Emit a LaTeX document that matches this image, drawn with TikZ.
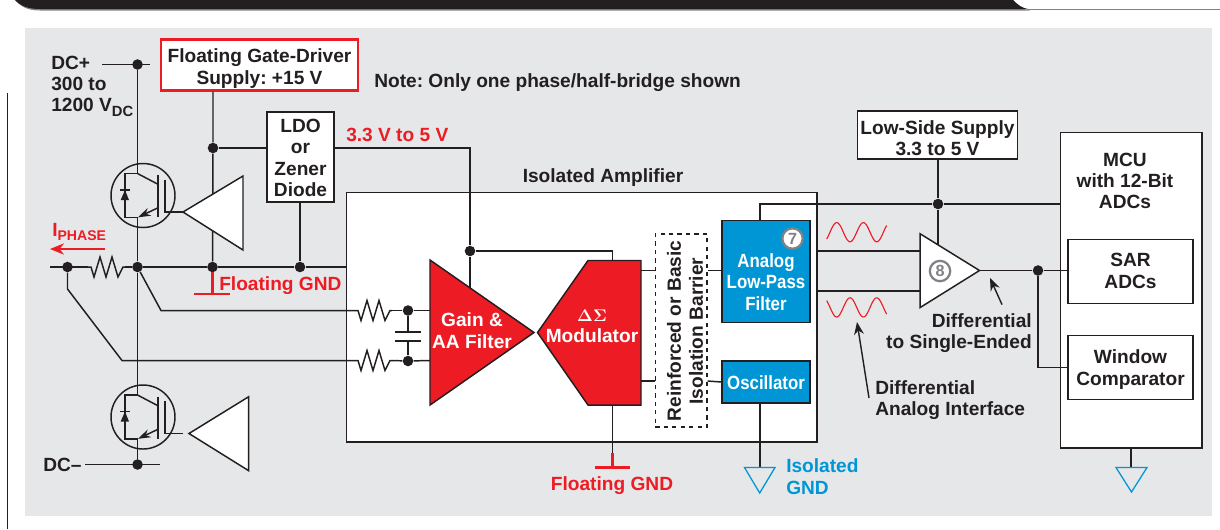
\documentclass[tikz,border=0pt]{standalone}
\usepackage{fontspec}
\setmainfont{Liberation Sans}
\usetikzlibrary{positioning, calc}
\usetikzlibrary{arrows.meta}

\definecolor{ink}{HTML}{231F20}
\definecolor{tired}{HTML}{ED1C24}
\definecolor{tiblue}{HTML}{0096D6}
\definecolor{panelgray}{HTML}{E6E7E8}
\definecolor{ringgray}{HTML}{808285}

\tikzset{
  wire/.style={draw=ink,line width=1.05pt},
  label/.style={font=\fontsize{13.6}{15.2}\selectfont\bfseries\frenchspacing,text=ink,inner sep=0pt,align=center},
  redlabel/.style={label,text=tired},
  bluelabel/.style={label,text=tiblue,align=left},
  whitelabel/.style={label,text=white},
  narrowlabel/.style={whitelabel,xscale=0.88},
  plainbox/.style={draw=ink,line width=1.05pt,fill=white,inner sep=0pt},
  bluebox/.style={draw=ink,line width=1.05pt,fill=tiblue,inner sep=0pt},
  dot/.style={circle,fill=ink,inner sep=0pt,minimum size=7.5pt},
  badge/.style={circle,draw=ringgray,line width=1.6pt,fill=white,inner sep=0pt,minimum size=14.5pt,
    font=\fontsize{11.5}{12}\selectfont\bfseries,text=ringgray},
  note/.style={draw=ink,line width=1pt,-{Stealth[length=9pt,width=7pt]}},
  redbar/.style={draw=tired,line width=1.8pt},
  bluegnd/.style={draw=tiblue,line width=0.9pt},
  % resistor, drawn from its left end
  resistor/.pic={
    \draw[wire] (0,0) -- (3,-0) -- (6,10) -- (12,-10) -- (18,10) -- (24,-10) -- (30,10) -- (35,0) -- (37,0);
  },
  % transistor, drawn from its collector point
  igbt/.pic={
    \draw[wire] (5.5,22) circle (32);
    \draw[wire] (0,0) -- (-12.5,0) -- (-12.5,44) -- (0,44);
    \draw[wire] (0,0) -- (20,10.5);
    \draw[wire] (20.5,1.5) -- (20.5,43.5);
    \draw[wire] (27.5,6) -- (27.5,38.5) -- (45.5,38.5);
    \draw[wire,-{Stealth[length=9pt,width=6pt]}] (20,34.5) -- (0.5,43.8);
    \draw[wire] (-17.5,16.5) -- (-7.5,16.5);
    \fill[ink] (-12.5,16.5) -- (-8.5,26.5) -- (-16.8,26.5) -- cycle;
  }
}

\begin{document}
\begin{tikzpicture}[x=0.025cm,y=-0.025cm]
  \useasboundingbox (0,0) rectangle (1220,529);

  % header strip and panel
  \fill[ringgray] (15,0) .. controls (21,7) and (28,10.5) .. (40,10.5) -- (1030,10.5)
    .. controls (1022,9) and (1018,6) .. (1013,0) -- cycle;
  \fill[ink] (15,0) .. controls (21,6) and (28,9) .. (40,9) -- (1028,9)
    .. controls (1022,8) and (1018,5) .. (1013,0) -- cycle;
  \draw[ringgray,line width=0.9pt] (1027,9.3) -- (1220,9.3);
  \fill[panelgray] (25,28) rectangle (1212,516);
  \draw[ink,line width=1pt] (7.5,93) -- (7.5,529);

  % isolated amplifier outline
  \node[plainbox,minimum width=11.77cm,minimum height=6.225cm,anchor=north west] (amp) at (345.5,192) {};
  \node[label] (amptitle) at (603,177.5) {Isolated Amplifier};

  % supply boxes
  \node[plainbox,draw=tired,line width=1.9pt,minimum width=4.93cm,minimum height=1.26cm] (gatesupply) at (259.5,65) {};
  \node[label] (gatetext) at (259.5,68.5) {Floating Gate-Driver\\Supply: +15 V};
  \node[plainbox,minimum width=1.675cm,minimum height=2.25cm] (ldo) at (300.5,157) {};
  \node[label] (ldotext) at (300.5,158) {LDO\\or\\Zener\\Diode};
  \node[plainbox,minimum width=4cm,minimum height=1.2cm] (lowside) at (937.5,135) {};
  \node[label] (lowtext) at (937.5,138) {Low-Side Supply\\3.3 to 5 V};
  \node[label,anchor=west] (phasenote) at (374,82.5) {Note: Only one phase/half-bridge shown};

  % MCU
  \node[plainbox,minimum width=3.53cm,minimum height=7.875cm,anchor=north west] (mcu) at (1060,132) {};
  \node[label] (mcutitle) at (1125,181) {MCU\\with 12-Bit\\ADCs};
  \node[plainbox,minimum width=3.125cm,minimum height=1.6cm] (sar) at (1130.5,271.5) {};
  \node[label] (sartext) at (1130.5,271) {SAR\\ADCs};
  \node[plainbox,minimum width=3.125cm,minimum height=1.6cm] (window) at (1130.5,367.5) {};
  \node[label] (windowtext) at (1130.5,369.5) {Window\\Comparator};

  % blue blocks
  \node[bluebox,minimum width=2.2cm,minimum height=2.56cm] (lpf) at (766,271.5) {};
  \node[narrowlabel] (lpftext) at (766,282) {Analog\\Low-Pass\\Filter};
  \node[bluebox,minimum width=2.2cm,minimum height=1.05cm] (osc) at (766,382) {};
  \node[narrowlabel] (osctext) at (766,383) {Oscillator};
  \node[badge] (seven) at (792.5,238.5) {7};

  % barrier
  \node[draw=ink,line width=0.8pt,dashed,minimum width=1.29cm,minimum height=4.825cm] (barrier) at (681.2,330.5) {};
  \node[label,rotate=90] (barriera) at (674,331) {Reinforced or Basic};
  \node[label,rotate=90] (barrierb) at (696,331) {Isolation Barrier};

  % points
  \node[dot] (dcplus) at (137.5,64.5) {};
  \node[dot] (ldotap) at (213,148) {};
  \node[dot] (phase) at (67.5,267) {};
  \node[dot] (midpoint) at (137.5,267) {};
  \node[dot] (drvgnd) at (212.5,267) {};
  \node[dot] (ldognd) at (300,267) {};
  \node[dot] (dcminus) at (137.5,464.5) {};
  \node[dot] (ampsupply) at (470,251) {};
  \node[dot] (lowtap) at (938,204) {};
  \node[dot] (outtap) at (1038,270.5) {};
  \node[dot] (sensea) at (408,310.5) {};
  \node[dot] (senseb) at (408,361) {};

  \coordinate (dcplusl) at (102,64.5);
  \coordinate (dcplusr) at (150,64.5);
  \coordinate (dcminusl) at (85,464.5);
  \coordinate (dcminusr) at (160,464.5);
  \coordinate (collup) at (137.5,173.5);
  \coordinate (emitup) at (137.5,217.5);
  \coordinate (colllow) at (137.5,395);
  \coordinate (phasel) at (50,267);
  \coordinate (resl) at (88,267);
  \coordinate (resa) at (355,310.5);
  \coordinate (resb) at (355,360.5);

  % power wiring
  \draw[wire] (dcplusl) -- (dcplusr);
  \draw[wire] (dcminusl) -- (dcminusr);
  \draw[wire] (dcplus) -- (collup);
  \draw[wire] (emitup) -- (midpoint) -- (colllow);
  \draw[wire] (colllow |- 0,439) -- (dcminus);
  \draw[wire] (phasel) -- (resl);
  \draw[wire] (125,267) -- (midpoint) -- (drvgnd) -- (ldognd) -- (amp.west |- ldognd);
  \draw[wire] (gatesupply.south -| ldotap) -- (ldotap) -- (drvgnd);
  \draw[wire] (ldotap) -- (ldo.west |- ldotap);
  \draw[wire] (ldo.south -| ldognd) -- (ldognd);
  \draw[wire] (ldo.east |- ldotap) -- (470,148) -- (ampsupply) -- (470,290);
  \draw[wire] (ampsupply) -- (612.5,251) -- (612.5,262);

  % sense wiring
  \draw[wire] (midpoint) -- (161,310.5) -- (resa);
  \draw[wire] (phase) -- (67.5,289) -- (122,360.5) -- (resb);
  \draw[wire] (392,310.5) -- (sensea) -- (430,310.5);
  \draw[wire] (392,360.5) -- (senseb) -- (430,360.5);
  \draw[wire] (sensea) -- (408,332);
  \draw[wire] (senseb) -- (408,341);
  \draw[wire] (395,332) -- (421,332);
  \draw[wire] (395,341) -- (421,341);
  \pic at (resl) {resistor};
  \pic at (resa) {resistor};
  \pic at (resb) {resistor};

  % transistors and drivers
  \pic at (collup) {igbt};
  \pic at (colllow) {igbt};
  \draw[plainbox] (183,212) -- (243,176) -- (243,250) -- cycle;
  \draw[plainbox] (189,433.5) -- (248.7,396.7) -- (248.7,470.7) -- cycle;

  % gain stage and modulator
  \draw[wire,fill=tired] (430,260) -- (430,405) -- (534,332.5) -- cycle;
  \draw[wire,fill=tired] (537.5,332.5) -- (588,260.5) -- (641,260.5) -- (641,405) -- (588,405) -- cycle;
  \node[whitelabel] (gaintext) at (472,330.5) {Gain \&\\AA Filter};
  \node[whitelabel] (modtext) at (592,326) {{\fontsize{12}{12}\selectfont\boldmath$\Delta\Sigma$}\\Modulator};

  % across the barrier
  \draw[wire] (641,270.5) -- (barrier.west |- 0,270.5);
  \draw[wire] (barrier.east |- 0,270.5) -- (lpf.west |- 0,270.5);
  \draw[wire] (641,381) -- (barrier.west |- 0,381);
  \draw[wire] (barrier.east |- 0,381) -- (osc.west);

  % grounds
  \coordinate (gndleft) at (212.5,294);
  \coordinate (gndmod) at (612.5,467.5);
  \draw[wire] (drvgnd) -- (212.5,272);
  \draw[redbar] (212.5,272) -- (gndleft);
  \draw[redbar] (194,294) -- (230,294);
  \draw[wire] (612.5,405) -- (612.5,453);
  \draw[redbar] (612.5,453) -- (gndmod);
  \draw[redbar] (595,467.5) -- (630,467.5);
  \draw[wire] (osc.south -| 760,0) -- (760,467);
  \draw[bluegnd] (744.5,467.5) -- (775,467.5) -- (759.7,493) -- cycle;
  \draw[wire] (mcu.south -| 1131,0) -- (1131,467);
  \draw[bluegnd] (1116,467.5) -- (1147,467.5) -- (1131.5,492) -- cycle;

  % differential output stage
  \draw[wire] (lpf.north -| 760,0) -- (760,204) -- (lowtap) -- (mcu.west |- lowtap);
  \draw[wire] (lowside.south -| lowtap) -- (lowtap) -- (938,245);
  \draw[wire] (amp.east |- 0,251) -- (920,251);
  \draw[wire] (amp.east |- 0,291) -- (920,291);
  \draw[plainbox] (920,233.7) -- (979.5,270.5) -- (920,307.6) -- cycle;
  \node[badge] (eight) at (940,271) {8};
  \draw[wire] (979.5,270.5) -- (outtap) -- (sar.west |- outtap);
  \draw[wire] (outtap) -- (1038,367.5) -- (window.west);

  % signal sketches
  \draw[tired,line width=0.8pt,domain=826.7:886.7,samples=70,smooth] plot (\x,{232.2-9.6*sin(13.483*(\x-830))});
  \draw[tired,line width=0.8pt,domain=826.7:886.7,samples=70,smooth] plot (\x,{307.4+9.6*sin(13.483*(\x-830))});

  % callouts
  \coordinate (singletail) at (1002,304.6);
  \coordinate (singletip) at (990,278);
  \coordinate (analogtail) at (869,398);
  \coordinate (analogtip) at (857,322);
  \draw[note] (singletail) -- (singletip);
  \draw[note] (analogtail) -- (analogtip);
  \node[label,align=right,anchor=east] (singletext) at (1032,333) {Differential\\to Single-Ended};
  \node[label,align=left,anchor=west] (analogtext) at (875,400) {Differential\\Analog Interface};

  % remaining labels
  \node[label,align=left,anchor=west] (dctext) at (51,86)
    {DC+\\300 to\\1200 V\raisebox{-3pt}{\fontsize{10.5}{12}\selectfont DC}};
  \node[label,anchor=west] (dcmtext) at (43,464.5) {DC--};
  \node[redlabel,anchor=west] (phasetext) at (52,232) {I\raisebox{-3pt}{\fontsize{10}{12}\selectfont PHASE}};
  \coordinate (phasetail) at (105,249);
  \coordinate (phasetip) at (50,249);
  \draw[draw=tired,line width=1pt,-{Stealth[length=10pt,width=8pt]}] (phasetail) -- (phasetip);
  \node[redlabel,anchor=west] (gndtexta) at (219,285.5) {Floating GND};
  \node[redlabel] (gndtextb) at (612,486) {Floating GND};
  \node[redlabel,anchor=west] (railtext) at (346,135) {3.3 V to 5 V};
  \node[bluelabel,anchor=west] (isogndtext) at (786,476.5) {Isolated\\GND};
\end{tikzpicture}
\end{document}
